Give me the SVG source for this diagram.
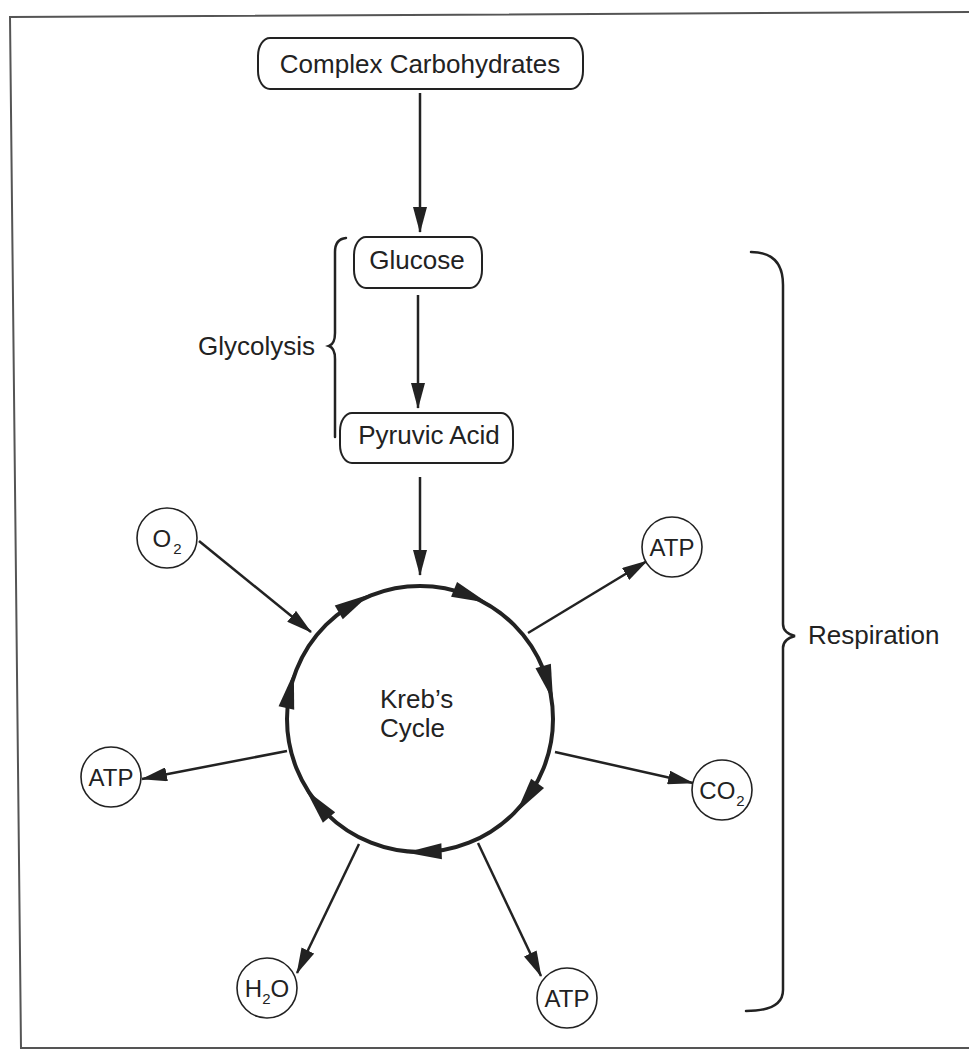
<svg xmlns="http://www.w3.org/2000/svg" xmlns:xlink="http://www.w3.org/1999/xlink" width="969" height="1051" viewBox="0 0 969 1051">
<style>
  text { font-family: "Liberation Sans", Arial, sans-serif; font-size: 26px; fill: #222; }
  .box { fill: none; stroke: #222; stroke-width: 2; }
  .node { fill: #fff; stroke: #222; stroke-width: 1.6; }
  .conn { stroke: #222; stroke-width: 2.5; fill: none; }
  .brace { stroke: #222; stroke-width: 2.5; fill: none; stroke-linecap: round; }
  .frame { stroke: #555; stroke-width: 2; fill: none; }
  .lbl { font-size: 24px; }
  .sub { font-size: 15px; }
</style>
<defs>
  <marker id="arr" markerUnits="userSpaceOnUse" markerWidth="26" markerHeight="14" viewBox="0 0 26 14" refX="25" refY="7" orient="auto">
    <path d="M0,0 L26,7 L0,14 Z" fill="#222"/>
  </marker>
  <path id="ch" d="M0,19 L-8,-17 L8,-17 Z" fill="#222"/>
</defs>
<rect width="969" height="1051" fill="#fff"/>
<path class="frame" d="M969,12 L10,17 L21,1048 L969,1048"/>

<g id="connectors">
  <line class="conn" x1="420" y1="93" x2="420" y2="232" marker-end="url(#arr)"/>
  <line class="conn" x1="418" y1="295" x2="418" y2="408" marker-end="url(#arr)"/>
  <line class="conn" x1="420" y1="477" x2="420" y2="575" marker-end="url(#arr)"/>
  <line class="conn" x1="199" y1="541" x2="311" y2="632" marker-end="url(#arr)"/>
  <line class="conn" x1="528" y1="633" x2="647" y2="561" marker-end="url(#arr)"/>
  <line class="conn" x1="555" y1="752" x2="693" y2="783" marker-end="url(#arr)"/>
  <line class="conn" x1="478" y1="843" x2="541" y2="976" marker-end="url(#arr)"/>
  <line class="conn" x1="359" y1="844" x2="297" y2="973" marker-end="url(#arr)"/>
  <line class="conn" x1="287" y1="751" x2="142" y2="779" marker-end="url(#arr)"/>
</g>

<g id="complex-carbohydrates">
  <rect class="box" x="258" y="38" width="325" height="51" rx="12" ry="18"/>
  <text x="420" y="73" text-anchor="middle">Complex Carbohydrates</text>
</g>
<g id="glucose">
  <rect class="box" x="354" y="237" width="128" height="51" rx="12" ry="18"/>
  <text x="417" y="269" text-anchor="middle">Glucose</text>
</g>
<g id="pyruvic-acid">
  <rect class="box" x="340" y="413" width="173" height="50" rx="12" ry="18"/>
  <text x="429" y="444" text-anchor="middle">Pyruvic Acid</text>
</g>
<g id="glycolysis">
  <path class="brace" d="M346,238 Q335,239 335,252 L335,333 Q335,344 329,346 Q335,348 335,359 L335,437"/>
  <text x="315" y="355" text-anchor="end">Glycolysis</text>
</g>
<g id="respiration">
  <path class="brace" d="M751,252 Q783,252 783,285 L783,624 Q783,633 795,636 Q783,639 783,648 L783,990 Q783,1011 746,1011"/>
  <text x="808" y="644">Respiration</text>
</g>

<g id="krebs-cycle">
  <circle cx="420" cy="719" r="133" fill="none" stroke="#222" stroke-width="4"/>
  <use xlink:href="#ch" transform="rotate(-120 420 719) translate(553 719)"/>
  <use xlink:href="#ch" transform="rotate(-68 420 719) translate(553 719)"/>
  <use xlink:href="#ch" transform="rotate(-16 420 719) translate(553 719)"/>
  <use xlink:href="#ch" transform="rotate(36 420 719) translate(553 719)"/>
  <use xlink:href="#ch" transform="rotate(88 420 719) translate(553 719)"/>
  <use xlink:href="#ch" transform="rotate(140 420 719) translate(553 719)"/>
  <use xlink:href="#ch" transform="rotate(192 420 719) translate(553 719)"/>
  <text x="380" y="708">Kreb’s</text>
  <text x="380" y="737">Cycle</text>
</g>

<g id="o2">
  <circle class="node" cx="167" cy="538" r="30"/>
  <text class="lbl" x="167" y="547" text-anchor="middle">O<tspan class="sub" dx="2" dy="7">2</tspan></text>
</g>
<g id="atp-top-right">
  <circle class="node" cx="672" cy="547" r="30"/>
  <text class="lbl" x="672" y="556" text-anchor="middle">ATP</text>
</g>
<g id="co2">
  <circle class="node" cx="722" cy="790" r="30"/>
  <text class="lbl" x="722" y="799" text-anchor="middle">CO<tspan class="sub" dx="1" dy="7">2</tspan></text>
</g>
<g id="atp-bottom-right">
  <circle class="node" cx="567" cy="998" r="30"/>
  <text class="lbl" x="567" y="1007" text-anchor="middle">ATP</text>
</g>
<g id="h2o">
  <circle class="node" cx="267" cy="988" r="30"/>
  <text class="lbl" x="267" y="997" text-anchor="middle">H<tspan class="sub" dy="7">2</tspan><tspan dy="-7">O</tspan></text>
</g>
<g id="atp-left">
  <circle class="node" cx="111" cy="777" r="30"/>
  <text class="lbl" x="111" y="786" text-anchor="middle">ATP</text>
</g>
</svg>
